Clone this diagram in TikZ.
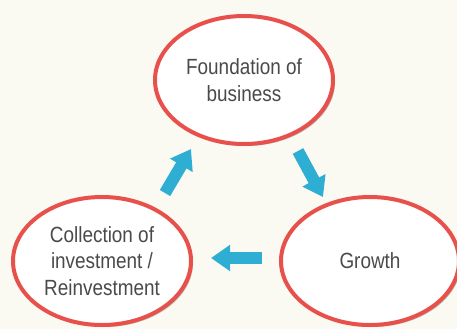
\documentclass[tikz,border=0pt]{standalone}
\usepackage{fontspec}
\setmainfont{Liberation Sans}[FakeStretch=0.86]
\usetikzlibrary{arrows.meta,shapes.geometric,shadows}
\definecolor{bgc}{HTML}{FAFAF3}
\definecolor{ringred}{HTML}{E8514B}
\definecolor{arrblue}{HTML}{2EAED2}
\definecolor{txt}{HTML}{4A4A4A}
\tikzset{
  stage/.style={ellipse, draw=ringred, line width=4pt, fill=white,
    minimum width=178pt, minimum height=128pt, inner sep=0pt,
    align=center, text=txt, font=\fontsize{22}{26.5}\selectfont,
    drop shadow={shadow xshift=2pt, shadow yshift=-2pt, opacity=0.25, fill=black}},
  flow/.style={draw=arrblue, line width=12pt,
    -{Triangle[length=19pt,width=25pt]}}
}
\begin{document}
\begin{tikzpicture}[x=1pt,y=-1pt]
\fill[bgc] (0,0) rectangle (457,329);
\useasboundingbox (0,0) rectangle (457,329);
\node[stage] (found) at (244,80) {Foundation of\\business};
\node[stage] (coll) at (102,261) {Collection of\\investment /\\Reinvestment};
\node[stage] (grow) at (370,261) {Growth};
\coordinate (a1s) at (298,151);
\coordinate (a1e) at (323,197);
\coordinate (a2s) at (262,258);
\coordinate (a2e) at (211,258);
\coordinate (a3s) at (165,193);
\coordinate (a3e) at (191,149);
\draw[flow] (a1s) -- (a1e);
\draw[flow] (a2s) -- (a2e);
\draw[flow] (a3s) -- (a3e);
\end{tikzpicture}
\end{document}
